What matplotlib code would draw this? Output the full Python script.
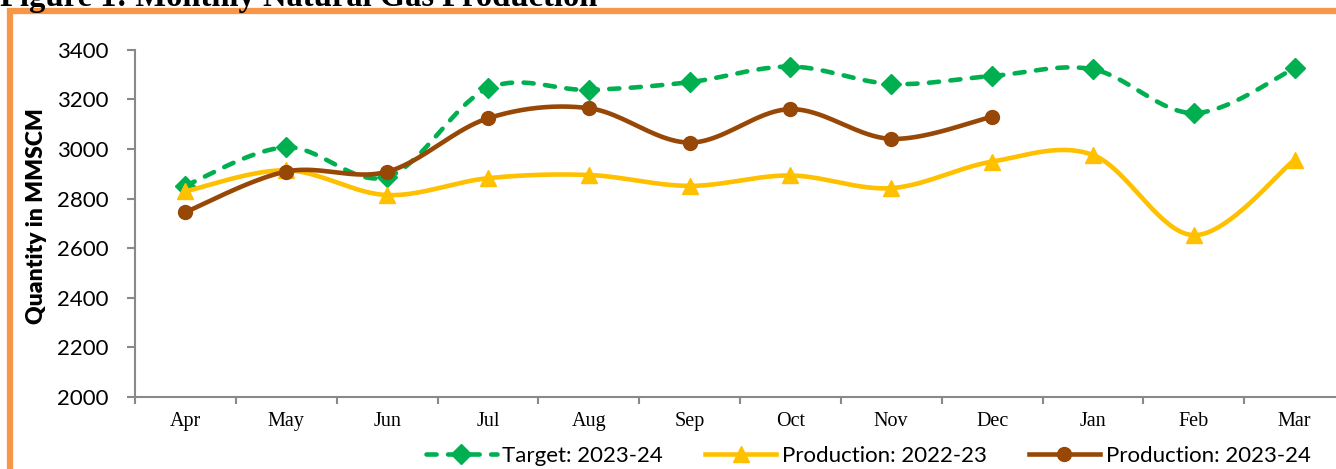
import numpy as np
import matplotlib
matplotlib.use('Agg')
import matplotlib.pyplot as plt
from matplotlib.lines import Line2D
from matplotlib.patches import Rectangle

months = ['Apr', 'May', 'Jun', 'Jul', 'Aug', 'Sep', 'Oct', 'Nov', 'Dec', 'Jan', 'Feb', 'Mar']
target_2324 = [2852, 3007, 2887, 3245, 3239, 3270, 3333, 3263, 3295, 3322, 3145, 3326]
prod_2223 = [2829, 2914, 2814, 2882, 2895, 2851, 2893, 2842, 2949, 2976, 2652, 2956]
prod_2324 = [2745, 2909, 2908, 3124, 3165, 3026, 3161, 3041, 3131]
yticks = [2000, 2200, 2400, 2600, 2800, 3000, 3200, 3400]

GREEN = '#00B050'
YELLOW = '#FFC000'
BROWN = '#974706'
SANS = ['Lato', 'DejaVu Sans']
SERIF = ['Liberation Serif', 'DejaVu Serif']


def smooth(y, n=40):
    # excel-like smoothed line (bezier through the points)
    y = np.asarray(y, float)
    x = np.arange(len(y), dtype=float)
    P = np.column_stack([x, y])
    Q = np.vstack([P[:1], P, P[-1:]])
    t = np.linspace(0, 1, n)[:, None]
    out = []
    for i in range(len(P) - 1):
        p0, p3 = P[i], P[i + 1]
        c1 = p0 + (Q[i + 2] - Q[i]) / 6
        c2 = p3 - (Q[i + 3] - Q[i + 1]) / 6
        seg = (1 - t) ** 3 * p0 + 3 * (1 - t) ** 2 * t * c1 + 3 * (1 - t) * t ** 2 * c2 + t ** 3 * p3
        out.append(seg if i == 0 else seg[1:])
    out = np.vstack(out)
    return out[:, 0], out[:, 1]


fig = plt.figure(figsize=(13.36, 4.69), dpi=100)

# orange frame
fig.patches.append(Rectangle((10 / 1336, -0.1), 1.1, 1 - 11 / 469 + 0.1, transform=fig.transFigure,
                             fill=False, edgecolor='#F79646', linewidth=4.5, zorder=0))

fig.text(0.0, 1 - 6 / 469, 'Figure 1: Monthly Natural Gas Production', family=SERIF,
         fontsize=23.5, fontweight='bold', ha='left', va='baseline')

ax = fig.add_axes([135 / 1336, 1 - 396.5 / 469, 1210 / 1336, 346.5 / 469])

lw = 3.3
dash = (2.2, 2.5)
x, y = smooth(target_2324)
ax.plot(x, y, color=GREEN, lw=lw, dashes=dash, dash_capstyle='round', zorder=2)
ax.plot(range(len(target_2324)), target_2324, ls='none', marker='D', ms=10, color=GREEN, zorder=2)

x, y = smooth(prod_2223)
ax.plot(x, y, color=YELLOW, lw=lw, solid_capstyle='round', zorder=3)
ax.plot(range(len(prod_2223)), prod_2223, ls='none', marker='^', ms=11.5, color=YELLOW, zorder=3)

x, y = smooth(prod_2324)
ax.plot(x, y, color=BROWN, lw=lw, solid_capstyle='round', zorder=4)
ax.plot(range(len(prod_2324)), prod_2324, ls='none', marker='o', ms=10, color=BROWN, zorder=4)

ax.set_xlim(-0.5, len(months) - 0.5)
ax.set_ylim(2000, 3400)
ax.set_yticks(yticks)
ax.set_xticks(np.arange(len(months)))
ax.set_xticklabels(months, family=SERIF, fontsize=14.5)
ax.set_xticks(np.arange(len(months)) - 0.5, minor=True)
ax.tick_params(axis='x', which='major', length=0, pad=11)
ax.tick_params(axis='x', which='minor', length=5, width=1.5, color='#898989', direction='out')
ax.tick_params(axis='y', length=6, width=1.5, color='#898989', direction='out', pad=13)
for lab in ax.get_yticklabels():
    lab.set_family(SANS)
    lab.set_fontsize(16)
ax.spines['top'].set_visible(False)
ax.spines['right'].set_visible(False)
for s in ['left', 'bottom']:
    ax.spines[s].set_color('#898989')
    ax.spines[s].set_linewidth(1.5)

ax.set_ylabel('Quantity in MMSCM', family=SANS, fontsize=16.5, fontweight='heavy')
ax.yaxis.set_label_coords(-0.073, 0.52)

handles = [
    Line2D([], [], color=GREEN, lw=lw, dashes=dash, dash_capstyle='round', marker='D', ms=10),
    Line2D([], [], color=YELLOW, lw=lw, marker='^', ms=11.5),
    Line2D([], [], color=BROWN, lw=lw, marker='o', ms=10),
]
labels = ['Target: 2023-24', 'Production: 2022-23', 'Production: 2023-24']
fig.legend(handles, labels, loc='center', bbox_to_anchor=(868 / 1336, 1 - 456 / 469), ncol=3,
           frameon=False, prop={'family': SANS, 'size': 16}, numpoints=1, handlelength=3.2,
           handletextpad=0.25, columnspacing=1.9, borderaxespad=0)

fig.savefig('out.png', dpi=100)
